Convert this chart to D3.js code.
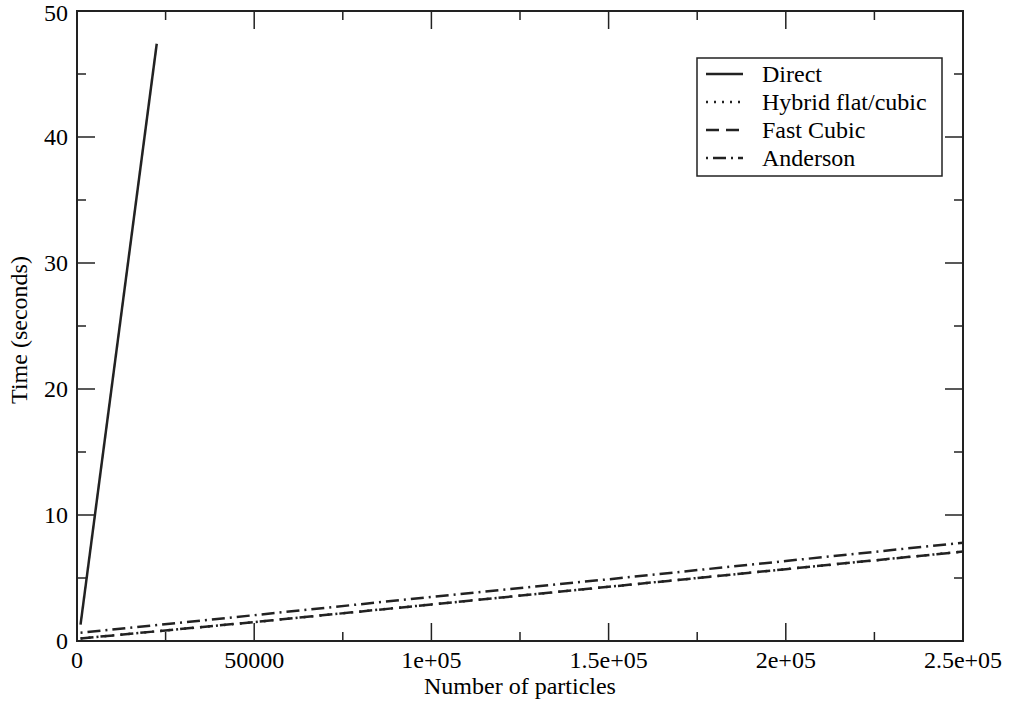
<!DOCTYPE html>
<html>
<head>
<meta charset="utf-8">
<script src="https://cdn.jsdelivr.net/npm/d3@7"></script>
<style>
  body { margin: 0; background: #fff; }
  text { font-family: "Liberation Serif", "DejaVu Serif", serif; fill: #000; }
</style>
</head>
<body>
<div id="chart"></div>
<script>
// series data
var directX = [1000, 22500];
var directY = [1.3, 47.4];

var fastX = [1000, 50000, 100000, 150000, 200000, 250000];
var hybridY = [0.2, 1.5, 2.9, 4.3, 5.7, 7.1];
var fastCubicY = [0.2, 1.5, 2.9, 4.3, 5.7, 7.1];
var andersonY = [0.65, 2.05, 3.5, 4.9, 6.35, 7.8];

var xTicks = [0, 50000, 100000, 150000, 200000, 250000];
var xTickLabels = ["0", "50000", "1e+05", "1.5e+05", "2e+05", "2.5e+05"];
var yTicks = [0, 10, 20, 30, 40, 50];

var seriesNames = ["Direct", "Hybrid flat/cubic", "Fast Cubic", "Anderson"];
var seriesDash = [null, "2,6", "13,7", "2,5,13,5"];

function drawChart() {
    var width = 1019, height = 702;
    var pLeft = 77, pRight = 963, pTop = 11, pBottom = 641;
    var ink = "#222";

    var svg = d3.select("#chart").append("svg")
        .attr("width", width)
        .attr("height", height);

    var x = d3.scaleLinear().domain([0, 250000]).range([pLeft, pRight]);
    var y = d3.scaleLinear().domain([0, 50]).range([pBottom, pTop]);

    // frame
    svg.append("rect")
        .attr("x", pLeft).attr("y", pTop)
        .attr("width", pRight - pLeft).attr("height", pBottom - pTop)
        .attr("fill", "none").attr("stroke", ink).attr("stroke-width", 2);

    // ticks pointing inward on all four sides
    var xMinor = d3.range(0, 250001, 25000);
    var yMinor = d3.range(0, 51, 5);

    xMinor.forEach(function(v) {
        var len = (v % 50000 === 0) ? 18 : 9;
        svg.append("line").attr("x1", x(v)).attr("x2", x(v))
            .attr("y1", pBottom).attr("y2", pBottom - len)
            .attr("stroke", ink).attr("stroke-width", 1.5);
        svg.append("line").attr("x1", x(v)).attr("x2", x(v))
            .attr("y1", pTop).attr("y2", pTop + len)
            .attr("stroke", ink).attr("stroke-width", 1.5);
    });

    yMinor.forEach(function(v) {
        var len = (v % 10 === 0) ? 18 : 9;
        svg.append("line").attr("x1", pLeft).attr("x2", pLeft + len)
            .attr("y1", y(v)).attr("y2", y(v))
            .attr("stroke", ink).attr("stroke-width", 1.5);
        svg.append("line").attr("x1", pRight).attr("x2", pRight - len)
            .attr("y1", y(v)).attr("y2", y(v))
            .attr("stroke", ink).attr("stroke-width", 1.5);
    });

    // tick labels
    svg.selectAll(".xl").data(xTicks).enter().append("text")
        .attr("x", function(d) { return x(d); })
        .attr("y", 668)
        .attr("text-anchor", "middle")
        .attr("font-size", 24)
        .text(function(d, i) { return xTickLabels[i]; });

    // top label is kept inside the page like in the original
    svg.selectAll(".yl").data(yTicks).enter().append("text")
        .attr("x", 68)
        .attr("y", function(d) { return Math.max(y(d) + 8, 21); })
        .attr("text-anchor", "end")
        .attr("font-size", 24)
        .text(function(d) { return d; });

    // axis titles
    svg.append("text")
        .attr("x", (pLeft + pRight) / 2).attr("y", 694)
        .attr("text-anchor", "middle")
        .attr("font-size", 24)
        .text("Number of particles");

    svg.append("text")
        .attr("transform", "translate(27," + ((pTop + pBottom) / 2 + 4) + ") rotate(-90)")
        .attr("text-anchor", "middle")
        .attr("font-size", 24)
        .text("Time (seconds)");

    // lines
    var line = d3.line()
        .x(function(d) { return x(d[0]); })
        .y(function(d) { return y(d[1]); });

    var series = [
        d3.zip(directX, directY),
        d3.zip(fastX, hybridY),
        d3.zip(fastX, fastCubicY),
        d3.zip(fastX, andersonY)
    ];

    series.forEach(function(s, i) {
        svg.append("path")
            .attr("d", line(s))
            .attr("fill", "none")
            .attr("stroke", ink)
            .attr("stroke-width", 2.5)
            .attr("stroke-dasharray", seriesDash[i]);
    });

    // legend
    var lg = svg.append("g");
    lg.append("rect")
        .attr("x", 697).attr("y", 58)
        .attr("width", 245).attr("height", 118)
        .attr("fill", "#fff").attr("stroke", ink).attr("stroke-width", 1.5);

    seriesNames.forEach(function(name, i) {
        var yy = 74 + i * 28;
        lg.append("line")
            .attr("x1", 706).attr("x2", 743)
            .attr("y1", yy).attr("y2", yy)
            .attr("stroke", ink).attr("stroke-width", 2.5)
            .attr("stroke-dasharray", seriesDash[i]);
        lg.append("text")
            .attr("x", 762).attr("y", yy + 8)
            .attr("font-size", 24)
            .text(name);
    });
}

drawChart();
</script>
</body>
</html>
